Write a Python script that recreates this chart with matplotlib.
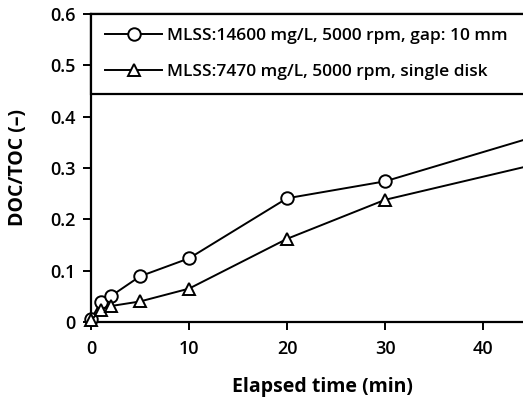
import matplotlib
matplotlib.use("Agg")
import matplotlib.pyplot as plt

# elapsed time (min)
time_gap = [0, 1, 2, 5, 10, 20, 30, 60]
doc_gap = [0.005, 0.039, 0.050, 0.089, 0.124, 0.241, 0.274, 0.445]

time_single = [0, 1, 2, 5, 10, 20, 30, 60]
doc_single = [0.003, 0.024, 0.031, 0.040, 0.065, 0.162, 0.238, 0.373]

label_gap = "MLSS:14600 mg/L, 5000 rpm, gap: 10 mm"
label_single = "MLSS:7470 mg/L, 5000 rpm, single disk"

xticks = [0, 10, 20, 30, 40]
yticks = [0, 0.1, 0.2, 0.3, 0.4, 0.5, 0.6]
yticklabels = ["0", "0.1", "0.2", "0.3", "0.4", "0.5", "0.6"]

plt.rcParams['font.family'] = ['Open Sans', 'DejaVu Sans']

fig = plt.figure(figsize=(5.23, 3.97), dpi=100)
# axes run past the right edge of the figure, like the cropped original
ax = fig.add_axes([91/523, 75/397, 588/523, 308/397])

ax.plot(time_gap, doc_gap, '-o', color='black', lw=1.4, ms=9,
        mfc='white', mec='black', mew=1.4, clip_on=False, zorder=3,
        label=label_gap)
ax.plot(time_single, doc_single, '-^', color='black', lw=1.4, ms=9,
        mfc='white', mec='black', mew=1.4, clip_on=False, zorder=3,
        label=label_single)

ax.set_xlim(0, 60)
ax.set_ylim(0, 0.6)
ax.set_xticks(xticks)
ax.set_yticks(yticks)
ax.set_yticklabels(yticklabels)

for s in ax.spines.values():
    s.set_linewidth(1.6)
ax.tick_params(direction='out', length=6, width=1.4, labelsize=13)
ax.tick_params(axis='x', pad=7)
ax.tick_params(axis='y', pad=5)
for t in ax.get_xticklabels() + ax.get_yticklabels():
    t.set_fontweight('semibold')

ax.set_xlabel('Elapsed time (min)', fontsize=14, fontweight='bold')
ax.set_ylabel('DOC/TOC (–)', fontsize=14, fontweight='bold')
# only the visible part of the axis counts for centring the x label
ax.xaxis.set_label_coords(0.393, -0.18)
ax.yaxis.set_label_coords(-0.107, 0.5)

leg = ax.legend(loc='upper left', bbox_to_anchor=(0, 0, 0.8, 1), mode='expand',
                borderaxespad=0, fancybox=False, edgecolor='black',
                fontsize=12.5, handlelength=3.3, handletextpad=0.3,
                labelspacing=1.12, borderpad=0.8, framealpha=1)
leg.get_frame().set_linewidth(1.6)
for t in leg.get_texts():
    t.set_fontweight('semibold')

fig.savefig('out.png', dpi=100)
